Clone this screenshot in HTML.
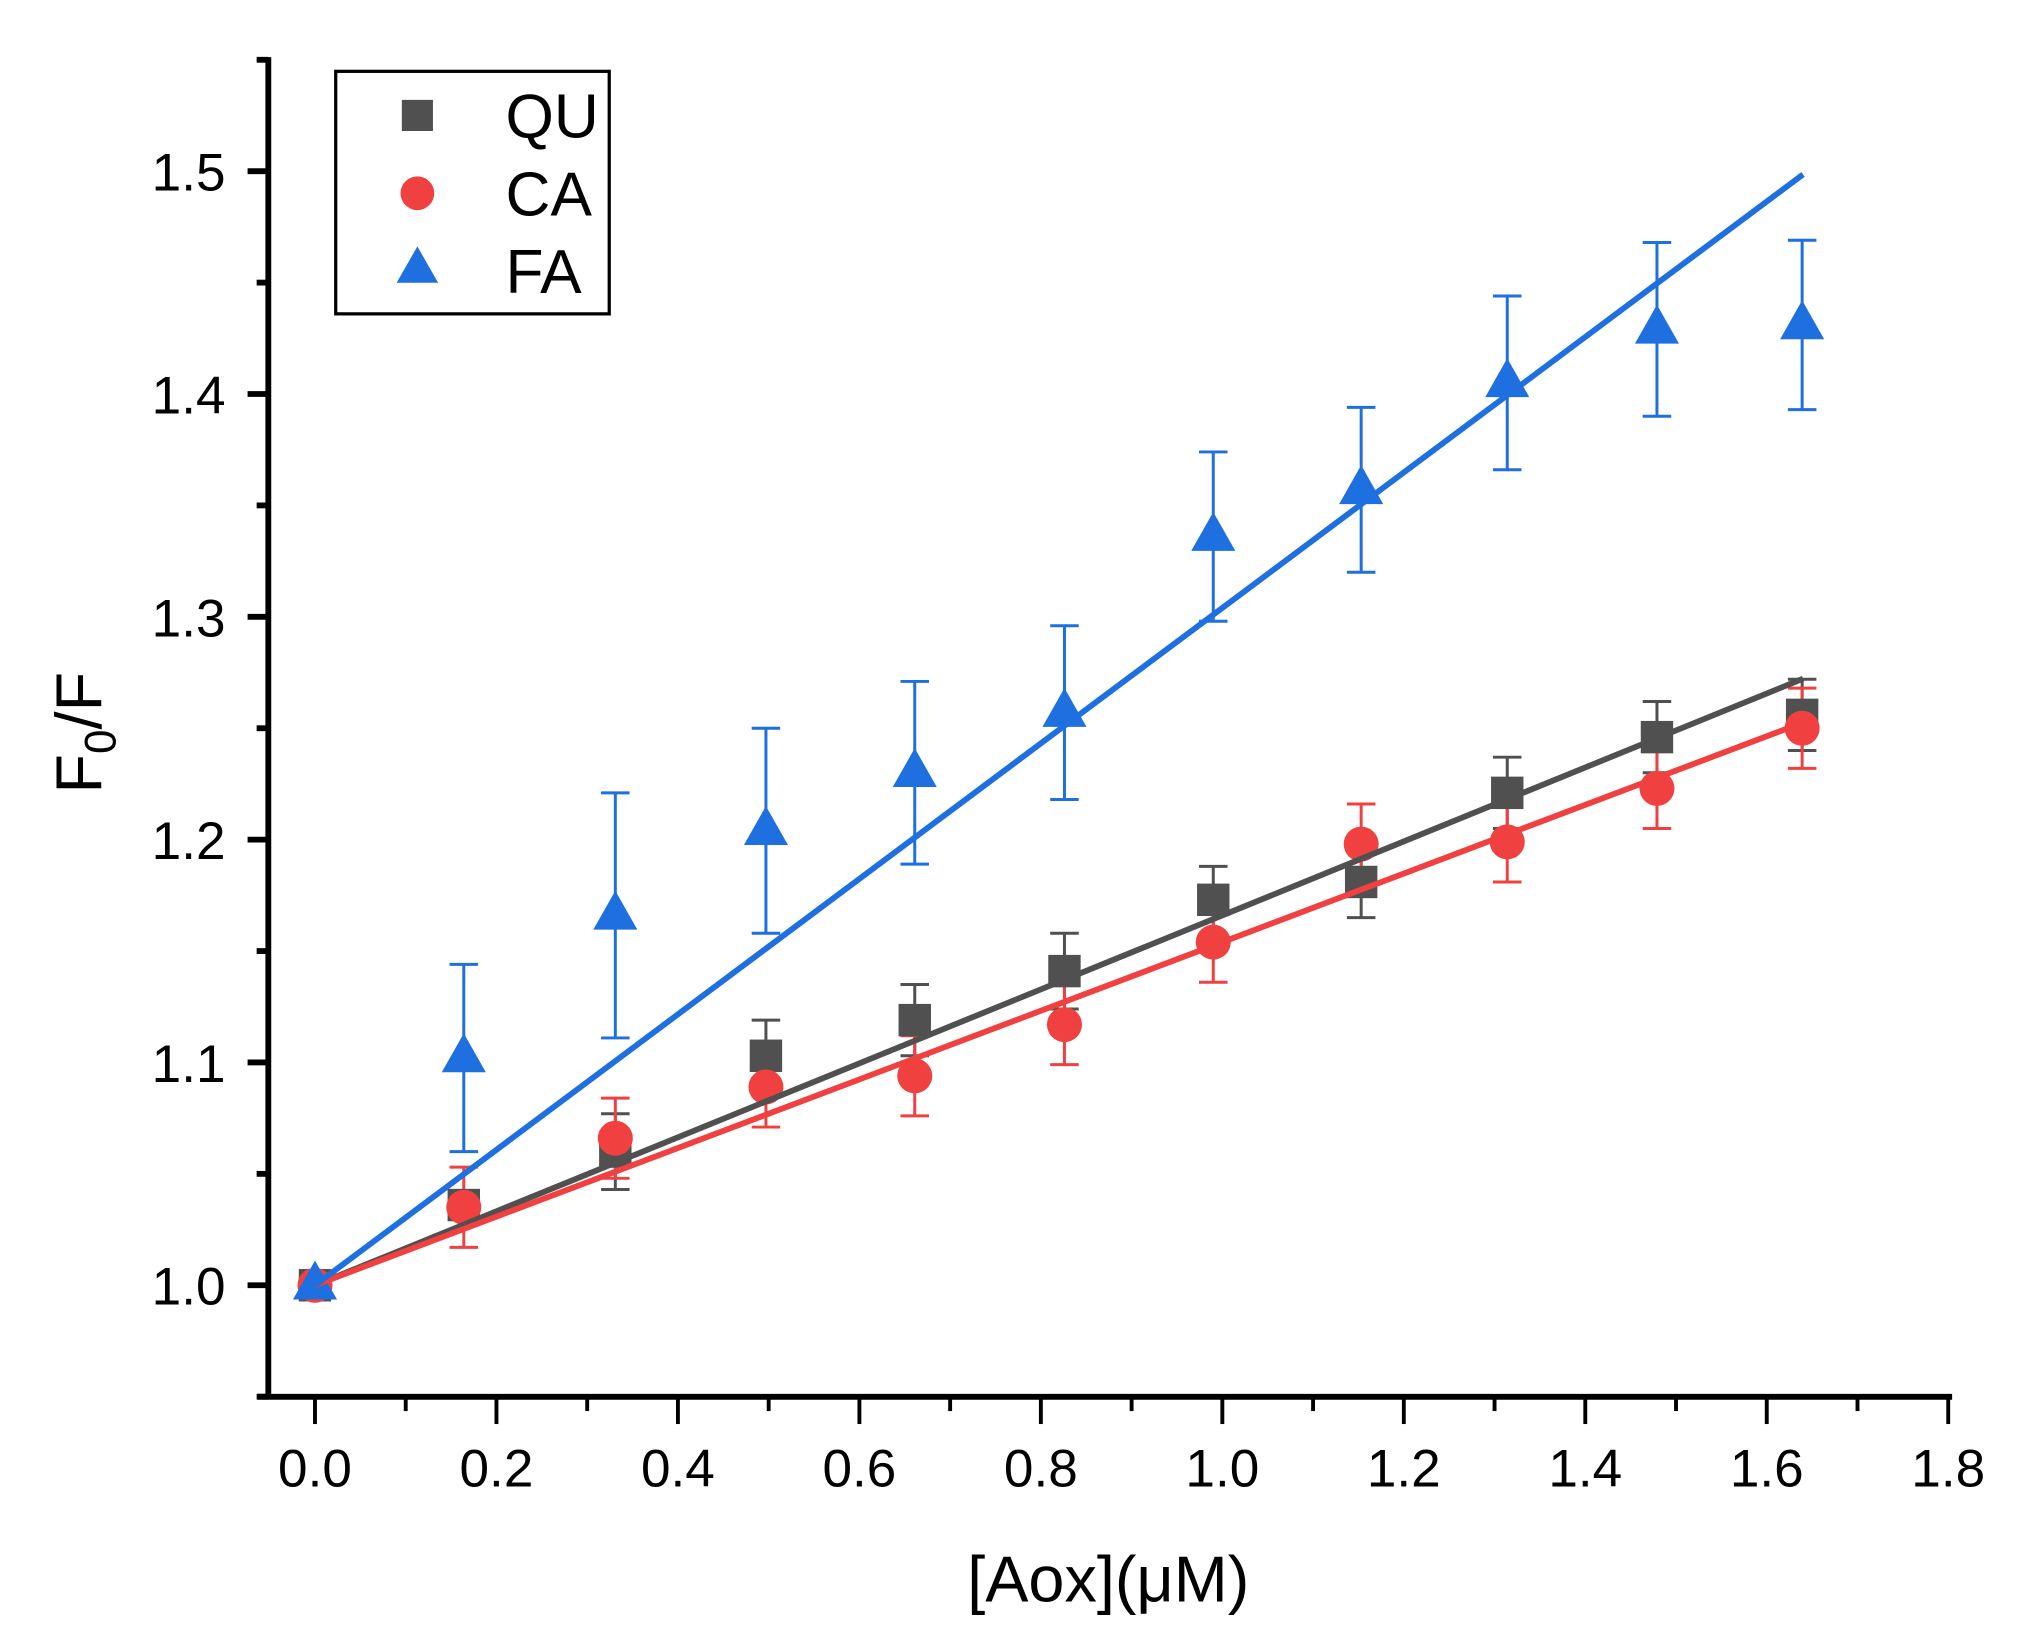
<!DOCTYPE html>
<html><head><meta charset="utf-8"><style>
html,body{margin:0;padding:0;background:#fff;}
svg{display:block;font-family:"Liberation Sans",Arial,sans-serif;}
</style></head><body>
<svg id="chart" width="2026" height="1651" viewBox="0 0 1563 1273" preserveAspectRatio="none" xmlns="http://www.w3.org/2000/svg">
<rect x="0" y="0" width="1563" height="1273" fill="#fff"/>
<g id="axes"></g>
<g id="plot"></g>
<g id="legend">
  <rect x="259" y="55" width="211" height="187" fill="#fff" stroke="#000" stroke-width="2.5"/>
  <rect x="310" y="77" width="24" height="24" fill="#505050"/>
  <text x="390" y="106" font-size="48">QU</text>
  <ellipse cx="322" cy="149" rx="13" ry="13" fill="#F04040"/>
  <text x="390" y="166" font-size="48">CA</text>
  <polygon points="322,190 306,218 338,218" fill="#1E6FE0"/>
  <text x="390" y="226" font-size="48">FA</text>
</g>
<text x="855" y="1235" font-size="50" text-anchor="middle">[Aox](μM)</text>
<text transform="translate(78,565) rotate(-90)" font-size="50" text-anchor="middle">F<tspan font-size="34" dy="11">0</tspan><tspan dy="-11">/F</tspan></text>
</svg>
<script>
const xValues = [0, 0.164, 0.331, 0.497, 0.661, 0.826, 0.99, 1.153, 1.314, 1.479, 1.639];
const quValues = [1.0, 1.036, 1.060, 1.103, 1.119, 1.141, 1.173, 1.181, 1.221, 1.246, 1.256];
const quErrors = [0.004, 0.006, 0.017, 0.016, 0.016, 0.017, 0.015, 0.016, 0.016, 0.016, 0.016];
const caValues = [1.0, 1.035, 1.066, 1.089, 1.094, 1.117, 1.154, 1.198, 1.199, 1.223, 1.250];
const caErrors = [0.003, 0.018, 0.018, 0.018, 0.018, 0.018, 0.018, 0.018, 0.018, 0.018, 0.018];
const faValues = [1.0, 1.102, 1.166, 1.204, 1.230, 1.257, 1.336, 1.357, 1.405, 1.429, 1.431];
const faErrors = [0.004, 0.042, 0.055, 0.046, 0.041, 0.039, 0.038, 0.037, 0.039, 0.039, 0.038];
const fitSlopes = [0.166, 0.154, 0.304];
const fitEnd = 1.64;
const xTicks = [0, 0.2, 0.4, 0.6, 0.8, 1.0, 1.2, 1.4, 1.6, 1.8];
const yTicks = [1.0, 1.1, 1.2, 1.3, 1.4, 1.5];

const NS = "http://www.w3.org/2000/svg";
const xs = v => 243 + v * 700;
const ys = v => 991 - (v - 1) * 1718;
function mk(tag, attrs, parent) {
  const e = document.createElementNS(NS, tag);
  for (const k in attrs) e.setAttribute(k, attrs[k]);
  parent.appendChild(e);
  return e;
}
const axes = document.getElementById('axes');
const plot = document.getElementById('plot');

let l = mk('line', {x1: 207, y1: 44, x2: 207, y2: 1079, stroke: '#000', 'stroke-width': 4.5}, axes);


l = mk('line', {x1: 199, y1: 1077, x2: 1506, y2: 1077, stroke: '#000', 'stroke-width': 4.5}, axes);



xTicks.forEach((t, i) => {
  const x = xs(t);
  const tk = mk('line', {x1: x, y1: 1077, x2: x, y2: 1098, stroke: '#000', 'stroke-width': 3}, axes);
  
  
  const lb = mk('text', {x: x, y: 1146, 'font-size': 41, 'text-anchor': 'middle'}, axes);
  lb.textContent = t.toFixed(1);
  
  
  if (i < xTicks.length - 1) {
    const mx = xs(t + 0.1);
    const m = mk('line', {x1: mx, y1: 1077, x2: mx, y2: 1088, stroke: '#000', 'stroke-width': 3}, axes);
    
    
  }
});
yTicks.forEach(t => {
  const y = ys(t);
  const tk = mk('line', {x1: 191, y1: y, x2: 207, y2: y, stroke: '#000', 'stroke-width': 4.5}, axes);
  
  
  const lb = mk('text', {x: 174, y: y + 15, 'font-size': 41, 'text-anchor': 'end'}, axes);
  lb.textContent = t.toFixed(1);
  
  
});
[0.95, 1.05, 1.15, 1.25, 1.35, 1.45, 1.55].forEach(t => {
  const y = ys(t);
  const m = mk('line', {x1: 198, y1: y, x2: 207, y2: y, stroke: '#000', 'stroke-width': 4.5}, axes);
  
  
});

const series = [
  {name: 'qu', vals: quValues, errs: quErrors, color: '#505050', shape: 'square'},
  {name: 'ca', vals: caValues, errs: caErrors, color: '#F04040', shape: 'circle'},
  {name: 'fa', vals: faValues, errs: faErrors, color: '#1E6FE0', shape: 'triangle'}
];

series.forEach(s => {
  s.vals.forEach((v, i) => {
    const x = xs(xValues[i]);
    const y1 = ys(v + s.errs[i]), y2 = ys(v - s.errs[i]);
    const g = mk('g', {stroke: s.color, 'stroke-width': 2.3}, plot);
    
    
    mk('line', {x1: x, y1: y1, x2: x, y2: y2}, g);
    mk('line', {x1: x - 11, y1: y1, x2: x + 11, y2: y1}, g);
    mk('line', {x1: x - 11, y1: y2, x2: x + 11, y2: y2}, g);
  });
});
series.forEach(s => {
  s.vals.forEach((v, i) => {
    const x = xs(xValues[i]), y = ys(v);
    let m;
    if (s.shape === 'square') m = mk('rect', {x: x - 12.5, y: y - 12.5, width: 25, height: 25, fill: s.color}, plot);
    else if (s.shape === 'circle') m = mk('circle', {cx: x, cy: y, r: 13.5, fill: s.color}, plot);
    else m = mk('polygon', {points: `${x},${y - 19} ${x - 17},${y + 11} ${x + 17},${y + 11}`, fill: s.color}, plot);
    
    
  });
});
series.forEach((s, k) => {
  const f = mk('line', {x1: xs(0), y1: ys(1), x2: xs(fitEnd), y2: ys(1 + fitSlopes[k] * fitEnd), stroke: s.color, 'stroke-width': 4.5}, plot);
  
  
});
</script>
</body></html>
